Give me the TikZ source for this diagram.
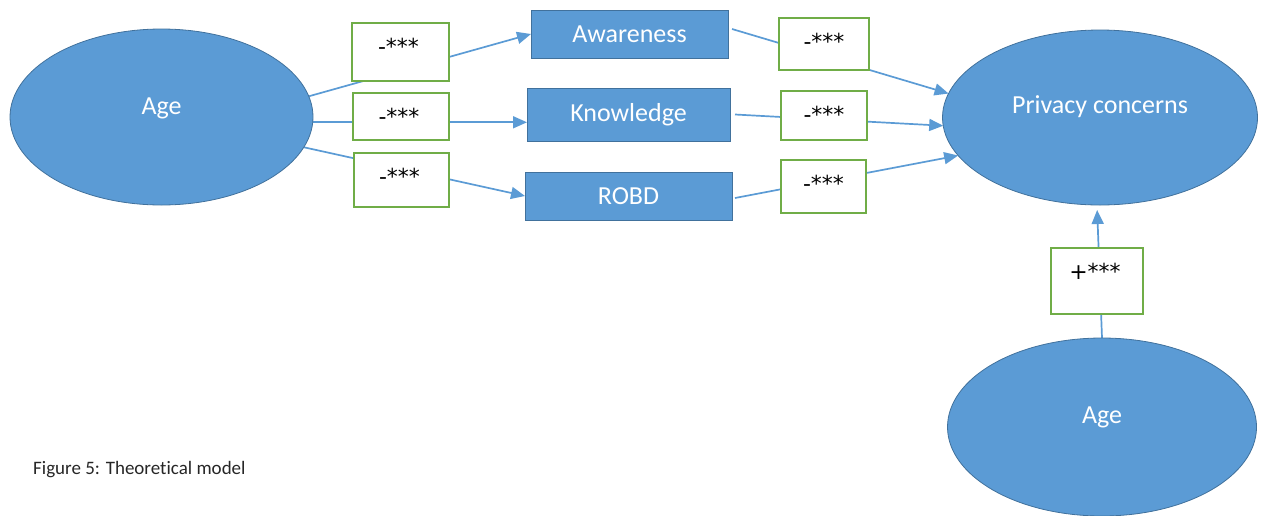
\documentclass[tikz,border=0pt]{standalone}
\usepackage{fontspec}
\setmainfont{Carlito}[Ligatures=NoCommon]
\newfontfamily\lblfont{DejaVu Sans}
\usetikzlibrary{arrows.meta,backgrounds,shapes.geometric}
\definecolor{ofblue}{HTML}{5B9BD5}
\definecolor{ofdark}{HTML}{41719C}
\definecolor{ofgreen}{HTML}{70AD47}
\begin{document}
\begin{tikzpicture}[x=1pt,y=-1pt,
  oval/.style={ellipse, draw=ofdark, fill=ofblue, line width=0.8pt, inner sep=0pt, outer sep=0pt},
  ovaltext/.style={text=white, font=\fontsize{26}{28}\selectfont, inner sep=0pt, anchor=center},
  var/.style={rectangle, draw=ofdark, fill=ofblue, line width=0.8pt, text=white, font=\fontsize{26}{28}\selectfont, inner sep=0pt, outer sep=0pt},
  coef/.style={rectangle, draw=ofgreen, fill=white, line width=1.3pt, inner sep=0pt, outer sep=0pt},
  coeftext/.style={font=\lblfont\fontsize{22}{24}\selectfont, inner sep=0pt, anchor=north, yshift=-15pt},
  link/.style={draw=ofblue, line width=1.7pt, -{Triangle[length=14pt,width=12pt]}},
  captext/.style={anchor=west, font=\fontsize{19}{21}\selectfont, text=black!85, inner sep=0pt}
]
\useasboundingbox (0,0) rectangle (1265,515);

% ellipses
\node[oval, minimum width=303pt, minimum height=176pt,
      label={[ovaltext,yshift=9pt]center:Age}] (ageL) at (161.5,117) {};
\node[oval, minimum width=315pt, minimum height=175pt,
      label={[ovaltext,yshift=10.5pt]center:Privacy concerns}] (pc) at (1100,117.5) {};
\node[oval, minimum width=309pt, minimum height=178pt,
      label={[ovaltext,yshift=10pt]center:Age}] (ageB) at (1102,427) {};

% mediators
\node[var, minimum width=197pt, minimum height=48pt] (aw) at (629.5,34) {Awareness};
\node[var, minimum width=203pt, minimum height=53pt] (kn) at (628.5,114.5) {Knowledge};
\node[var, minimum width=207pt, minimum height=48pt] (rb) at (628.5,196) {ROBD};

% coefficient boxes
\node[coef, minimum width=97pt, minimum height=58pt, label={[coeftext,xshift=-2pt]north:-***}] (c1) at (400.5,52) {};
\node[coef, minimum width=96pt, minimum height=47pt, label={[coeftext,xshift=-2pt]north:-***}] (c2) at (401,116.5) {};
\node[coef, minimum width=95pt, minimum height=54pt, label={[coeftext,xshift=-2pt]north:-***}] (c3) at (401.5,180) {};
\node[coef, minimum width=90pt, minimum height=52pt, label={[coeftext]north:-***}] (c4) at (824,44) {};
\node[coef, minimum width=86pt, minimum height=49pt, label={[coeftext]north:-***}] (c5) at (824,115.5) {};
\node[coef, minimum width=85pt, minimum height=53pt, label={[coeftext]north:-***}] (c6) at (823.5,186.5) {};
\node[coef, minimum width=92pt, minimum height=66pt, label={[coeftext,xshift=-2pt]north:+***}] (c7) at (1097,281) {};

% caption
\node[captext] (cap) at (33,470) {Figure 5: Theoretical model};

% connectors behind the boxes
\begin{scope}[on background layer]
\draw[link] (ageL.8) -- (aw.west);
\draw[link] (ageL.-2) -- (ageL.-2 -| kn.west);
\draw[link] (ageL.-12.5) -- (rb.west);
\draw[link] ([xshift=4pt,yshift=5pt]aw.east) -- (pc.171.5);
\draw[link] ([xshift=5pt]kn.east) -- (pc.183);
\draw[link] ([xshift=3pt,yshift=-2pt]rb.east) -- (pc.195);
\draw[link, shorten >=5pt] (ageB.north) -- (pc.-92);
\end{scope}
\end{tikzpicture}
\end{document}
